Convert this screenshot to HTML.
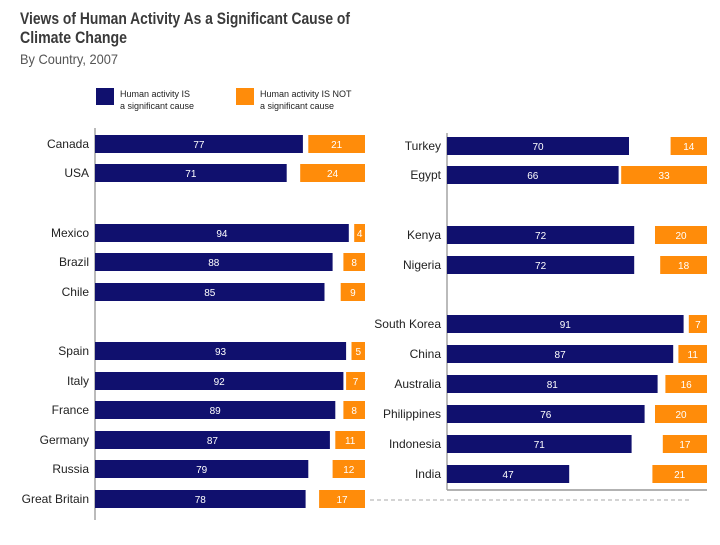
<!DOCTYPE html>
<html><head><meta charset="utf-8"><style>
body{margin:0;background:#fff;font-family:"Liberation Sans",sans-serif;}
svg text{font-family:"Liberation Sans",sans-serif;}
</style></head><body>
<svg width="720" height="540" viewBox="0 0 720 540">
<text x="20" y="24" font-size="17" font-weight="bold" fill="#3a3a3a" textLength="330" lengthAdjust="spacingAndGlyphs">Views of Human Activity As a Significant Cause of</text>
<text x="20" y="43" font-size="17" font-weight="bold" fill="#3a3a3a" textLength="107" lengthAdjust="spacingAndGlyphs">Climate Change</text>
<text x="20" y="64" font-size="14" fill="#555" textLength="98" lengthAdjust="spacingAndGlyphs">By Country, 2007</text>
<rect x="96" y="88" width="18" height="17" fill="#10106e"/>
<text x="120" y="97" font-size="9" fill="#222">Human activity IS</text>
<text x="120" y="109" font-size="9" fill="#222">a significant cause</text>
<rect x="236" y="88" width="18" height="17" fill="#ff8c0a"/>
<text x="260" y="97" font-size="9" fill="#222">Human activity IS NOT</text>
<text x="260" y="109" font-size="9" fill="#222">a significant cause</text>
<line x1="95" y1="128" x2="95" y2="520" stroke="#777"/>
<line x1="447" y1="133" x2="447" y2="490" stroke="#777"/>
<line x1="447" y1="490" x2="707" y2="490" stroke="#999" stroke-width="1.5"/>
<line x1="370" y1="500" x2="690" y2="500" stroke="#aaa" stroke-dasharray="4,3"/>
<g id="bars"></g>
</svg>
<script>
const leftCountries=["Canada","USA","Mexico","Brazil","Chile","Spain","Italy","France","Germany","Russia","Great Britain"];
const leftIs=[77,71,94,88,85,93,92,89,87,79,78];
const leftNot=[21,24,4,8,9,5,7,8,11,12,17];
const leftRowY=[144,173,233,262,292,351,381,410,440,469,499];
const rightCountries=["Turkey","Egypt","Kenya","Nigeria","South Korea","China","Australia","Philippines","Indonesia","India"];
const rightIs=[70,66,72,72,91,87,81,76,71,47];
const rightNot=[14,33,20,18,7,11,16,20,17,21];
const rightRowY=[146,175,235,265,324,354,384,414,444,474];
const NS="http://www.w3.org/2000/svg";
const g=document.getElementById('bars');
function mk(t,a){const e=document.createElementNS(NS,t);for(const k in a)e.setAttribute(k,a[k]);g.appendChild(e);return e;}
function panel(cats,is,not,rows,x0,scale,xr){
  cats.forEach((c,i)=>{
    const y=rows[i];
    const lab=mk('text',{x:x0-6,y:y+4,'font-size':12,'text-anchor':'end',fill:'#222'});
    lab.textContent=c;
    
    
    const w=is[i]*scale;
    const b=mk('rect',{x:x0,y:y-9,width:w,height:18,fill:'#10106e'});
    
    
    const t=mk('text',{x:x0+w/2,y:y+4,'font-size':10,'text-anchor':'middle',fill:'#fff'});
    t.textContent=is[i];
    
    
    const w2=not[i]*scale;
    const o=mk('rect',{x:xr-w2,y:y-9,width:w2,height:18,fill:'#ff8c0a'});
    
    
    const t2=mk('text',{x:xr-w2/2,y:y+4,'font-size':10,'text-anchor':'middle',fill:'#fff'});
    t2.textContent=not[i];
    
    
  });
}
panel(leftCountries,leftIs,leftNot,leftRowY,95,2.7,365);
panel(rightCountries,rightIs,rightNot,rightRowY,447,2.6,707);
</script>
</body></html>
